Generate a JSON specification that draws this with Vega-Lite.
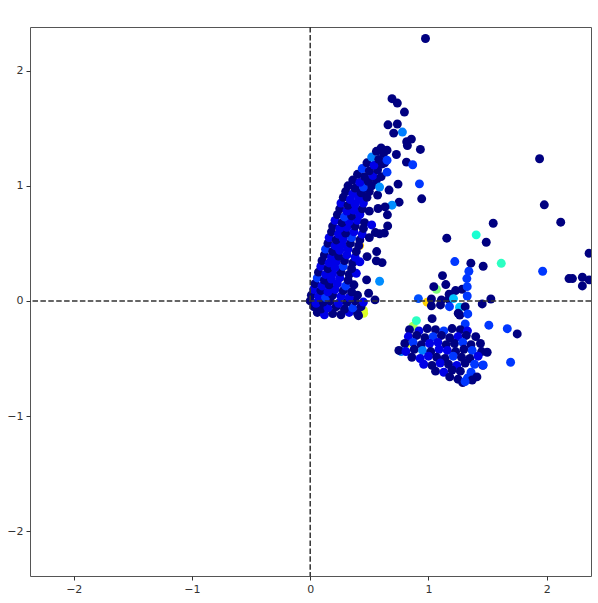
{
  "$schema": "https://vega.github.io/schema/vega-lite/v6.json",
  "autosize": "none",
  "width": 561,
  "height": 549,
  "padding": {"left": 30, "top": 27, "right": 7, "bottom": 27},
  "background": "white",
  "config": {
    "view": {"stroke": "#555", "strokeWidth": 1},
    "axis": {"labelFont": "DejaVu Sans", "labelFontSize": 11, "labelColor": "#333", "tickColor": "#333", "tickSize": 4, "domain": false, "grid": false, "title": null, "labelPadding": 3, "format": "d"}
  },
  "layer": [
    {
      "data": {"values": [
        {"x":0.82,"y":-0.37,"c":0.62},{"x":0.87,"y":-0.22,"c":0.55},{"x":0.989,"y":-0.011,"c":0.7},{"x":0.452,"y":-0.107,"c":0.62},{"x":0.45,"y":-0.08,"c":0.62},{"x":0.418,"y":0.481,"c":0.72},
        {"x":0.06,"y":-0.10,"c":0},{"x":0.12,"y":-0.12,"c":0.09},{"x":0.19,"y":-0.11,"c":0},{"x":0.26,"y":-0.12,"c":0},{"x":0.33,"y":-0.10,"c":0.09},{"x":0.40,"y":-0.11,"c":0},
        {"x":0.03,"y":-0.05,"c":0},{"x":0.09,"y":-0.07,"c":0},{"x":0.15,"y":-0.06,"c":0.09},{"x":0.22,"y":-0.05,"c":0},{"x":0.29,"y":-0.07,"c":0},{"x":0.36,"y":-0.06,"c":0.13},{"x":0.43,"y":-0.05,"c":0},
        {"x":0.00,"y":0.00,"c":0},{"x":0.05,"y":-0.02,"c":0.09},{"x":0.11,"y":-0.01,"c":0},{"x":0.17,"y":0.00,"c":0},{"x":0.24,"y":-0.02,"c":0.09},{"x":0.31,"y":-0.01,"c":0},{"x":0.38,"y":0.00,"c":0},{"x":0.45,"y":-0.01,"c":0.09},
        {"x":0.01,"y":0.05,"c":0},{"x":0.07,"y":0.04,"c":0.09},{"x":0.13,"y":0.03,"c":0.13},{"x":0.19,"y":0.05,"c":0},{"x":0.26,"y":0.04,"c":0.09},{"x":0.33,"y":0.03,"c":0.09},{"x":0.40,"y":0.05,"c":0},
        {"x":0.03,"y":0.10,"c":0.09},{"x":0.09,"y":0.09,"c":0},{"x":0.15,"y":0.08,"c":0.09},{"x":0.21,"y":0.10,"c":0.09},{"x":0.28,"y":0.09,"c":0},{"x":0.35,"y":0.08,"c":0},
        {"x":0.04,"y":0.15,"c":0},{"x":0.10,"y":0.13,"c":0.09},{"x":0.16,"y":0.14,"c":0},{"x":0.23,"y":0.15,"c":0.09},{"x":0.30,"y":0.13,"c":0.13},{"x":0.37,"y":0.14,"c":0},
        {"x":0.06,"y":0.20,"c":0.13},{"x":0.12,"y":0.18,"c":0},{"x":0.18,"y":0.19,"c":0.09},{"x":0.25,"y":0.20,"c":0.09},{"x":0.32,"y":0.18,"c":0},
        {"x":0.07,"y":0.25,"c":0},{"x":0.13,"y":0.23,"c":0.09},{"x":0.19,"y":0.24,"c":0.09},{"x":0.26,"y":0.25,"c":0},{"x":0.33,"y":0.23,"c":0},{"x":0.39,"y":0.24,"c":0.09},
        {"x":0.09,"y":0.30,"c":0.09},{"x":0.15,"y":0.28,"c":0},{"x":0.21,"y":0.29,"c":0.09},{"x":0.28,"y":0.30,"c":0.13},{"x":0.35,"y":0.28,"c":0},
        {"x":0.10,"y":0.35,"c":0},{"x":0.16,"y":0.33,"c":0.09},{"x":0.22,"y":0.34,"c":0.09},{"x":0.29,"y":0.35,"c":0},{"x":0.36,"y":0.33,"c":0},{"x":0.42,"y":0.34,"c":0.09},
        {"x":0.12,"y":0.40,"c":0},{"x":0.18,"y":0.38,"c":0.09},{"x":0.24,"y":0.39,"c":0},{"x":0.31,"y":0.40,"c":0.09},{"x":0.38,"y":0.38,"c":0.09},
        {"x":0.13,"y":0.45,"c":0.13},{"x":0.19,"y":0.43,"c":0},{"x":0.25,"y":0.44,"c":0.09},{"x":0.32,"y":0.45,"c":0.09},{"x":0.39,"y":0.43,"c":0},
        {"x":0.15,"y":0.50,"c":0},{"x":0.21,"y":0.48,"c":0.09},{"x":0.27,"y":0.49,"c":0.09},{"x":0.34,"y":0.50,"c":0},{"x":0.41,"y":0.48,"c":0},
        {"x":0.16,"y":0.55,"c":0.09},{"x":0.22,"y":0.53,"c":0},{"x":0.28,"y":0.54,"c":0.09},{"x":0.35,"y":0.55,"c":0.13},{"x":0.42,"y":0.53,"c":0},
        {"x":0.18,"y":0.60,"c":0},{"x":0.24,"y":0.58,"c":0.09},{"x":0.30,"y":0.59,"c":0},{"x":0.37,"y":0.60,"c":0.09},{"x":0.44,"y":0.58,"c":0.09},
        {"x":0.19,"y":0.65,"c":0},{"x":0.25,"y":0.63,"c":0.09},{"x":0.31,"y":0.64,"c":0.09},{"x":0.38,"y":0.65,"c":0},{"x":0.45,"y":0.63,"c":0},
        {"x":0.21,"y":0.70,"c":0.09},{"x":0.27,"y":0.68,"c":0},{"x":0.33,"y":0.69,"c":0.09},{"x":0.40,"y":0.70,"c":0.09},{"x":0.46,"y":0.68,"c":0},
        {"x":0.23,"y":0.75,"c":0},{"x":0.29,"y":0.73,"c":0.13},{"x":0.35,"y":0.74,"c":0},{"x":0.42,"y":0.75,"c":0.09},
        {"x":0.25,"y":0.80,"c":0},{"x":0.31,"y":0.78,"c":0.09},{"x":0.37,"y":0.79,"c":0.09},{"x":0.44,"y":0.80,"c":0},{"x":0.50,"y":0.78,"c":0},
        {"x":0.26,"y":0.85,"c":0.09},{"x":0.32,"y":0.83,"c":0},{"x":0.38,"y":0.84,"c":0.09},{"x":0.45,"y":0.85,"c":0.09},
        {"x":0.28,"y":0.90,"c":0},{"x":0.34,"y":0.88,"c":0.09},{"x":0.41,"y":0.89,"c":0.09},{"x":0.48,"y":0.90,"c":0},
        {"x":0.30,"y":0.95,"c":0},{"x":0.36,"y":0.93,"c":0.09},{"x":0.43,"y":0.94,"c":0},{"x":0.50,"y":0.95,"c":0},
        {"x":0.32,"y":1.00,"c":0},{"x":0.38,"y":0.98,"c":0},{"x":0.45,"y":0.99,"c":0.13},{"x":0.52,"y":1.00,"c":0},
        {"x":0.36,"y":1.05,"c":0},{"x":0.42,"y":1.03,"c":0.09},{"x":0.49,"y":1.04,"c":0},{"x":0.56,"y":1.05,"c":0},
        {"x":0.40,"y":1.10,"c":0},{"x":0.46,"y":1.08,"c":0},{"x":0.53,"y":1.09,"c":0.09},
        {"x":0.44,"y":1.15,"c":0.13},{"x":0.50,"y":1.13,"c":0},{"x":0.57,"y":1.14,"c":0},
        {"x":0.48,"y":1.20,"c":0},{"x":0.54,"y":1.18,"c":0.09},{"x":0.61,"y":1.19,"c":0},
        {"x":0.52,"y":1.25,"c":0.2},{"x":0.58,"y":1.23,"c":0},
        {"x":0.56,"y":1.30,"c":0},{"x":0.62,"y":1.28,"c":0},
        {"x":0.60,"y":1.33,"c":0},{"x":0.65,"y":1.31,"c":0},
        {"x":0.50,"y":0.55,"c":0},{"x":0.52,"y":0.66,"c":0.09},{"x":0.57,"y":0.92,"c":0},{"x":0.60,"y":1.08,"c":0},{"x":0.63,"y":1.20,"c":0},
        {"x":0.692,"y":1.757,"c":0},{"x":0.737,"y":1.719,"c":0},{"x":0.797,"y":1.641,"c":0},{"x":0.658,"y":1.530,"c":0},{"x":0.737,"y":1.537,"c":0},{"x":0.706,"y":1.458,"c":0},{"x":0.780,"y":1.467,"c":0.2},{"x":0.816,"y":1.383,"c":0},{"x":0.856,"y":1.406,"c":0},{"x":0.822,"y":1.350,"c":0},{"x":0.932,"y":1.316,"c":0},{"x":0.729,"y":1.272,"c":0},{"x":0.814,"y":1.206,"c":0},{"x":0.867,"y":1.183,"c":0.13},{"x":0.650,"y":1.223,"c":0.13},{"x":0.650,"y":1.119,"c":0.13},{"x":0.587,"y":0.989,"c":0.22},{"x":0.667,"y":0.963,"c":0},{"x":0.743,"y":1.015,"c":0},{"x":0.924,"y":1.017,"c":0.13},{"x":0.943,"y":0.887,"c":0},{"x":0.752,"y":0.858,"c":0},{"x":0.692,"y":0.832,"c":0.22},{"x":0.633,"y":0.817,"c":0},{"x":0.574,"y":0.803,"c":0},{"x":0.653,"y":0.748,"c":0},{"x":0.655,"y":0.652,"c":0},{"x":0.587,"y":0.583,"c":0},{"x":0.627,"y":0.589,"c":0},{"x":0.551,"y":0.594,"c":0},{"x":0.562,"y":0.429,"c":0},{"x":0.608,"y":0.333,"c":0},{"x":0.559,"y":0.348,"c":0},{"x":0.481,"y":0.385,"c":0},{"x":0.477,"y":0.183,"c":0},{"x":0.587,"y":0.171,"c":0.22},{"x":0.494,"y":0.067,"c":0},{"x":0.548,"y":0.009,"c":0},{"x":0.409,"y":-0.128,"c":0},{"x":0.975,"y":2.28,"c":0},
        {"x":1.98,"y":0.835,"c":0},{"x":2.119,"y":0.684,"c":0},{"x":1.548,"y":0.675,"c":0},{"x":1.404,"y":0.574,"c":0.4},{"x":1.155,"y":0.545,"c":0},{"x":1.489,"y":0.510,"c":0},{"x":2.359,"y":0.414,"c":0},{"x":1.616,"y":0.327,"c":0.42},{"x":1.223,"y":0.342,"c":0.13},{"x":1.359,"y":0.328,"c":0},{"x":1.463,"y":0.301,"c":0},{"x":1.342,"y":0.258,"c":0.13},{"x":1.966,"y":0.258,"c":0.13},{"x":1.119,"y":0.220,"c":0},{"x":1.325,"y":0.194,"c":0.13},{"x":1.147,"y":0.142,"c":0},{"x":1.068,"y":0.101,"c":0.5},{"x":1.045,"y":0.124,"c":0},{"x":1.229,"y":0.090,"c":0},{"x":1.285,"y":0.101,"c":0},{"x":1.328,"y":0.124,"c":0.13},{"x":1.175,"y":0.058,"c":0},{"x":1.328,"y":0.043,"c":0.13},{"x":2.189,"y":0.194,"c":0},{"x":2.218,"y":0.194,"c":0},{"x":2.302,"y":0.206,"c":0},{"x":2.359,"y":0.183,"c":0},{"x":2.302,"y":0.13,"c":0},{"x":0.915,"y":0.02,"c":0.15},{"x":1.025,"y":0.017,"c":0},{"x":1.11,"y":0.009,"c":0},{"x":1.172,"y":0.014,"c":0},{"x":1.212,"y":0.02,"c":0.3},{"x":1.528,"y":0.017,"c":0},{"x":1.455,"y":-0.026,"c":0},{"x":1.025,"y":-0.043,"c":0},{"x":1.102,"y":-0.035,"c":0},{"x":1.178,"y":-0.05,"c":0.13},{"x":1.263,"y":-0.055,"c":0.3},{"x":1.311,"y":-0.05,"c":0},{"x":1.252,"y":-0.107,"c":0},{"x":1.265,"y":-0.122,"c":0},{"x":1.333,"y":-0.113,"c":0.13},{"x":1.511,"y":-0.211,"c":0.13},{"x":1.667,"y":-0.241,"c":0.13},{"x":1.751,"y":-0.287,"c":0},{"x":1.695,"y":-0.533,"c":0.13},{"x":1.311,"y":-0.2,"c":0.13},{"x":0.898,"y":-0.171,"c":0.42},{"x":1.031,"y":-0.154,"c":0},{"x":1.94,"y":1.235,"c":0},
        {"x":0.84,"y":-0.25,"c":0},{"x":0.92,"y":-0.26,"c":0.09},{"x":0.99,"y":-0.24,"c":0},{"x":1.06,"y":-0.25,"c":0},{"x":1.13,"y":-0.26,"c":0.13},{"x":1.20,"y":-0.24,"c":0},{"x":1.27,"y":-0.25,"c":0},{"x":1.33,"y":-0.26,"c":0.09},
        {"x":0.83,"y":-0.31,"c":0.09},{"x":0.90,"y":-0.30,"c":0},{"x":0.97,"y":-0.32,"c":0},{"x":1.04,"y":-0.31,"c":0.13},{"x":1.11,"y":-0.30,"c":0},{"x":1.18,"y":-0.32,"c":0},{"x":1.25,"y":-0.31,"c":0.09},{"x":1.32,"y":-0.30,"c":0},{"x":1.40,"y":-0.31,"c":0},
        {"x":0.80,"y":-0.37,"c":0},{"x":0.87,"y":-0.36,"c":0.13},{"x":0.94,"y":-0.38,"c":0},{"x":1.01,"y":-0.37,"c":0.09},{"x":1.08,"y":-0.36,"c":0.09},{"x":1.15,"y":-0.38,"c":0},{"x":1.22,"y":-0.37,"c":0},{"x":1.29,"y":-0.36,"c":0.13},{"x":1.36,"y":-0.38,"c":0},{"x":1.44,"y":-0.37,"c":0},
        {"x":0.77,"y":-0.44,"c":0.2},{"x":0.75,"y":-0.43,"c":0},{"x":0.81,"y":-0.44,"c":0.09},{"x":0.88,"y":-0.42,"c":0},{"x":0.95,"y":-0.43,"c":0.2},{"x":1.02,"y":-0.44,"c":0},{"x":1.09,"y":-0.42,"c":0.09},{"x":1.16,"y":-0.43,"c":0.09},{"x":1.23,"y":-0.44,"c":0},{"x":1.30,"y":-0.42,"c":0},{"x":1.37,"y":-0.43,"c":0.13},{"x":1.45,"y":-0.44,"c":0},
        {"x":0.86,"y":-0.49,"c":0},{"x":0.93,"y":-0.50,"c":0.09},{"x":1.00,"y":-0.48,"c":0.09},{"x":1.07,"y":-0.49,"c":0},{"x":1.14,"y":-0.50,"c":0},{"x":1.21,"y":-0.48,"c":0.13},{"x":1.28,"y":-0.49,"c":0},{"x":1.35,"y":-0.50,"c":0},{"x":1.42,"y":-0.48,"c":0.09},
        {"x":0.96,"y":-0.55,"c":0.09},{"x":1.03,"y":-0.56,"c":0},{"x":1.10,"y":-0.54,"c":0.09},{"x":1.17,"y":-0.55,"c":0},{"x":1.24,"y":-0.56,"c":0.09},{"x":1.31,"y":-0.54,"c":0},{"x":1.39,"y":-0.55,"c":0.13},{"x":1.46,"y":-0.56,"c":0},
        {"x":1.06,"y":-0.61,"c":0},{"x":1.13,"y":-0.62,"c":0.09},{"x":1.20,"y":-0.60,"c":0},{"x":1.27,"y":-0.61,"c":0},{"x":1.36,"y":-0.62,"c":0.13},
        {"x":1.18,"y":-0.66,"c":0},{"x":1.25,"y":-0.68,"c":0},{"x":1.33,"y":-0.67,"c":0.13},{"x":1.41,"y":-0.66,"c":0},
        {"x":1.29,"y":-0.71,"c":0},{"x":1.497,"y":-0.446,"c":0},{"x":1.463,"y":-0.557,"c":0.13},{"x":1.37,"y":-0.687,"c":0},{"x":1.31,"y":-0.70,"c":0.13}
      ]},
      "mark": {"type": "circle", "size": 80, "opacity": 1, "clip": true},
      "encoding": {
        "x": {"field": "x", "type": "quantitative", "scale": {"domain": [-2.37, 2.375], "nice": false, "zero": false}, "axis": {"values": [-2, -1, 0, 1, 2]}},
        "y": {"field": "y", "type": "quantitative", "scale": {"domain": [-2.39, 2.38], "nice": false, "zero": false}, "axis": {"values": [-2, -1, 0, 1, 2]}},
        "color": {"field": "c", "type": "quantitative", "legend": null, "scale": {"domain": [0, 0.11, 0.34, 0.375, 0.5, 0.64, 0.66, 0.91, 1], "range": ["#000080", "#0000ff", "#00dbff", "#14ffe3", "#7dff7a", "#eeff08", "#ffec00", "#ff0000", "#800000"]}}
      }
    },
    {
      "data": {"values": [{"v": 0}]},
      "mark": {"type": "rule", "color": "#333", "strokeWidth": 1.5, "strokeDash": [5.5, 2.4]},
      "encoding": {"x": {"field": "v", "type": "quantitative"}}
    },
    {
      "data": {"values": [{"v": 0}]},
      "mark": {"type": "rule", "color": "#333", "strokeWidth": 1.5, "strokeDash": [5.5, 2.4]},
      "encoding": {"y": {"field": "v", "type": "quantitative"}}
    }
  ]
}
